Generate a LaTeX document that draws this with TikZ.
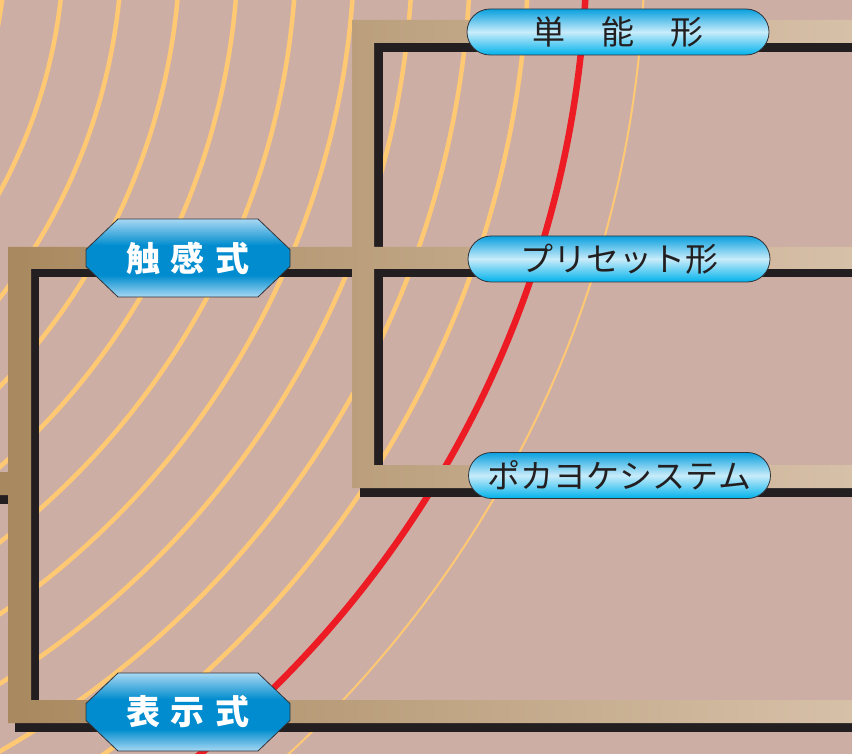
\documentclass[tikz,border=0pt]{standalone}
\usepackage{fontspec}
\newfontfamily\jp{Noto Sans CJK JP}
\usetikzlibrary{shapes.misc}
\definecolor{bg}{RGB}{205,174,165}
\definecolor{arcY}{RGB}{255,200,115}
\definecolor{arcR}{RGB}{237,28,36}
\definecolor{tanL}{RGB}{168,136,94}
\definecolor{tanR}{RGB}{214,192,168}
\definecolor{ink}{RGB}{35,31,32}
\definecolor{pillTop}{RGB}{10,160,222}
\definecolor{pillMid}{RGB}{200,236,250}
\definecolor{pillBot}{RGB}{0,178,235}
\definecolor{hexLight}{RGB}{168,216,243}
\definecolor{hexBlue}{RGB}{0,140,206}
\definecolor{edge}{RGB}{50,50,55}
\pgfdeclareverticalshading{hexshade}{100bp}{color(0bp)=(hexLight); color(25bp)=(hexLight); color(39bp)=(hexBlue); color(58bp)=(hexBlue); color(75bp)=(hexLight); color(100bp)=(hexLight)}
\begin{document}
\begin{tikzpicture}[x=1pt,y=-1pt,
  arcline/.style={arcY, line width=4.5pt},
  shadowline/.style={ink, line width=8.5pt, line join=miter, line cap=butt},
  pill/.style={rounded rectangle, draw=edge, line width=0.8pt,
    top color=pillTop, bottom color=pillBot, middle color=pillMid,
    minimum width=302pt, minimum height=46pt, inner sep=0pt,
    font=\jp\fontsize{33pt}{33pt}\selectfont, text=ink},
  hexface/.style={shading=hexshade, draw=edge, line width=0.8pt},
  hexbox/.style={rectangle, minimum width=204pt, minimum height=78pt, inner sep=0pt,
    text=white, font=\jp\bfseries\fontsize{34pt}{34pt}\selectfont}
]
\useasboundingbox (0,0) rectangle (852,754);
\fill[bg] (0,0) rectangle (852,754);

% concentric arcs
\begin{scope}
  \clip (0,0) rectangle (852,754);
  \coordinate (ctr) at (-465,-61);
  \foreach \k in {0,...,9}
    \draw[arcline] (ctr) circle[radius=471+58.1*\k];
  \draw[arcR, line width=6.5pt] (ctr) circle[radius=1052];
  \draw[arcY, line width=2pt] (ctr) circle[radius=1110];
\end{scope}

% free ends at the right edge
\coordinate (eTop) at (852,47.5);
\coordinate (eMid) at (852,273);
\coordinate (eLow) at (852,492.5);
\coordinate (eBot) at (852,727.5);

% black shadow lines
\draw[shadowline] (34.5,705) -- (34.5,273) -- (360,273);
\draw[shadowline] (eTop) -- (378.5,47.5) -- (378.5,255);
\draw[shadowline] (eMid) -- (378.5,273) -- (378.5,470);
\draw[shadowline] (360,492.5) -- (eLow);
\draw[shadowline] (15,727.5) -- (eBot);
\draw[shadowline] (0,499.5) -- (20,499.5);

% tan bracket bars with one horizontal gradient
\begin{scope}
  \clip (0,472) rectangle (31,495)
        (8,247) rectangle (31,723)
        (8,247) rectangle (374,269)
        (8,700) rectangle (852,723)
        (352,20) rectangle (374,488)
        (352,20) rectangle (852,43)
        (352,247) rectangle (852,269)
        (352,465) rectangle (852,488);
  \shade[left color=tanL, right color=tanR] (0,0) rectangle (852,754);
\end{scope}

% hexagon nodes
\coordinate (tkc) at (188,258);
\coordinate (hjc) at (188,712);
\foreach \c in {tkc,hjc}
  \shadedraw[hexface, shift={(\c)}]
    (-70,-39) -- (70,-39) -- (102,-8.5) -- (102,8.5) -- (70,39) -- (-70,39)
    -- (-102,8.5) -- (-102,-8.5) -- cycle;
\node[hexbox] (tk) at (tkc) {触\hspace{11pt}感\hspace{11pt}式};
\node[hexbox] (hj) at (hjc) {表\hspace{11pt}示\hspace{11pt}式};

% pill nodes
\node[pill] (tn) at (618,32) {単\hspace{36pt}能\hspace{36pt}形};
\node[pill] (ps) at (619,259) {プリセット形};
\node[pill] (pk) at (619.5,475.5) {ポカヨケシステム};
\end{tikzpicture}
\end{document}
